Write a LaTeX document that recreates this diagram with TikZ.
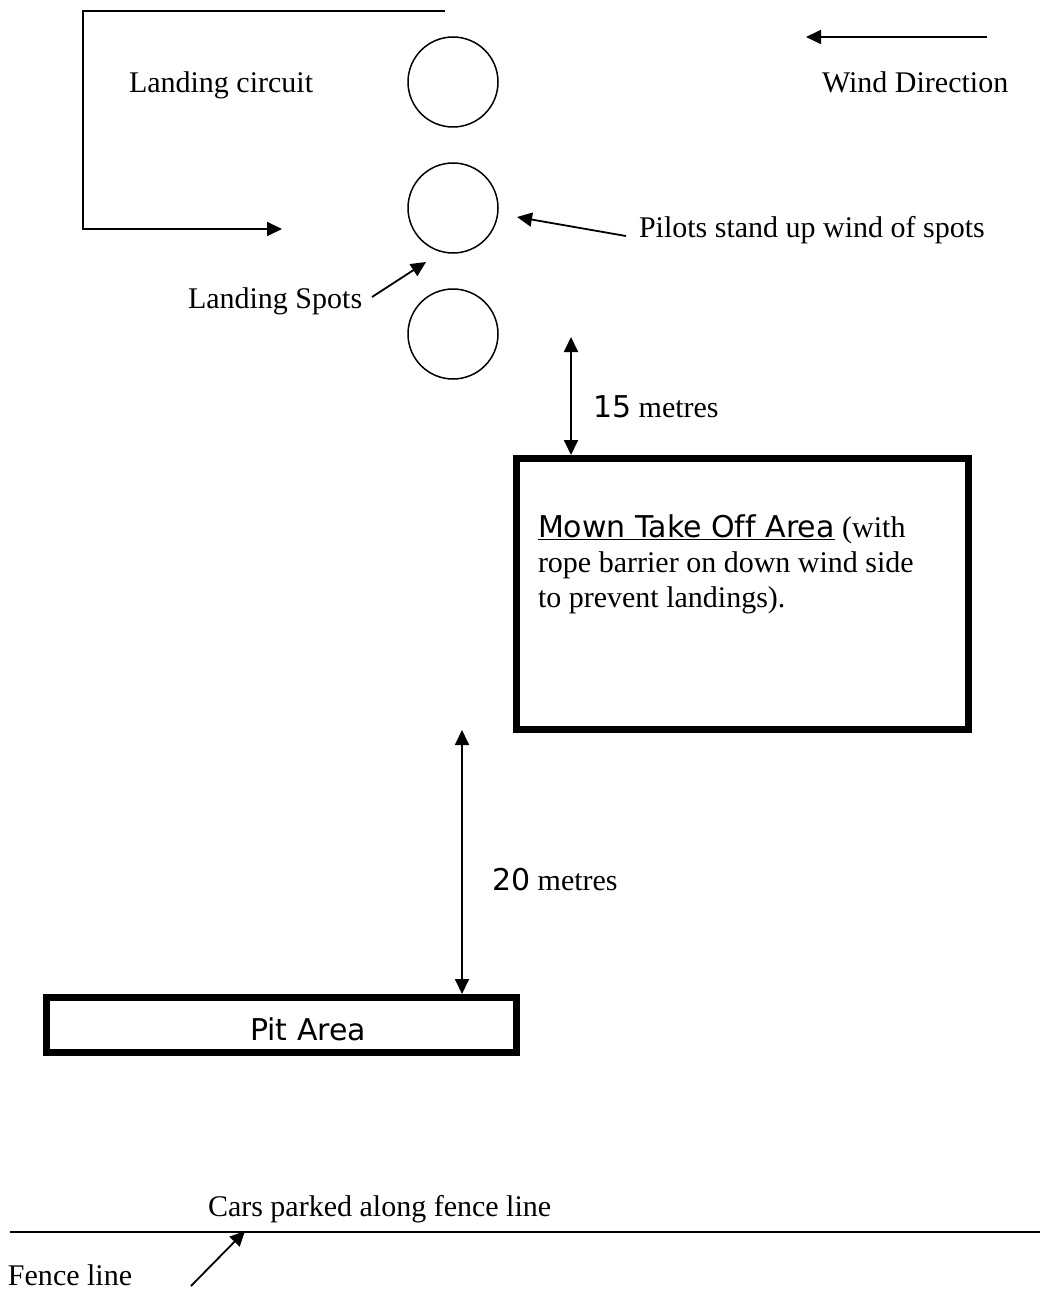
\documentclass[tikz,border=0pt]{standalone}
\usepackage{fontspec}
\setmainfont{Liberation Serif}
\setsansfont[Ligatures=NoCommon]{DejaVu Sans}
\usetikzlibrary{arrows.meta}
\begin{document}
\begin{tikzpicture}[x=1pt,y=-1pt,
  txt/.style={inner sep=0pt,outer sep=0pt,anchor=base west,font=\fontsize{30}{35}\selectfont},
  spot/.style={draw,circle,line width=1.5pt,minimum size=90pt,inner sep=0pt},
  area/.style={draw,line width=7pt,rectangle,inner sep=0pt},
  conn/.style={line width=1.8pt},
  tip/.style={-{Triangle[length=15pt,width=14pt]}},
  tips/.style={{Triangle[length=15pt,width=14pt]}-{Triangle[length=15pt,width=14pt]}}
]
\useasboundingbox (0,0) rectangle (1040,1289);
% landing spots
\node[spot] (s1) at (453,82) {};
\node[spot] (s2) at (453,208) {};
\node[spot] (s3) at (453,334) {};
% landing circuit
\coordinate (c1) at (445,11);
\coordinate (c2) at (83,11);
\coordinate (c3) at (83,229);
\coordinate (c4) at (282,229);
\draw[conn,tip] (c1) -- (c2) -- (c3) -- (c4);
\node[txt] (lc) at (129,93) {Landing circuit};
% wind
\coordinate (w1) at (987,37);
\coordinate (w2) at (806,37);
\draw[conn,tip] (w1) -- (w2);
\node[txt] (wd) at (822,93) {Wind Direction};
% pilots
\node[txt] (pil) at (639,237) {Pilots stand up wind of spots};
\coordinate (p1) at (626,236);
\coordinate (p2) at (517,217);
\draw[conn,tip] (p1) -- (p2);
% landing spots label
\node[txt] (ls) at (188,308) {Landing Spots};
\coordinate (l1) at (372,297);
\coordinate (l2) at (426,262);
\draw[conn,tip] (l1) -- (l2);
% mown take off area
\node[area,minimum width=452pt,minimum height=271pt] (mown) at (742.5,594) {};
\node[txt,align=left] (mt) at (538,607) {\underline{\sffamily Mown Take Off Area} (with\\rope barrier on down wind side\\to prevent landings).};
% 15 metres
\coordinate (m15) at (571,337);
\draw[conn,tips] (m15) -- (m15 |- mown.north);
\node[txt] (t15) at (593,417) {{\sffamily 15} metres};
% pit area
\node[area,minimum width=470pt,minimum height=55pt] (pit) at (281.5,1025) {};
\node[txt] (pt) at (250,1040) {\sffamily Pit Area};
% 20 metres
\coordinate (m20) at (462,730);
\draw[conn,tips] (m20) -- (m20 |- pit.north);
\node[txt] (t20) at (492,890) {{\sffamily 20} metres};
% fence
\coordinate (f1) at (10,1232);
\coordinate (f2) at (1040,1232);
\draw[line width=2.5pt] (f1) -- (f2);
\node[txt] (cars) at (208,1216) {Cars parked along fence line};
\node[txt] (fl) at (8,1285) {Fence line};
\coordinate (a1) at (191,1286);
\coordinate (a2) at (245,1231);
\draw[conn,tip] (a1) -- (a2);
\end{tikzpicture}
\end{document}
